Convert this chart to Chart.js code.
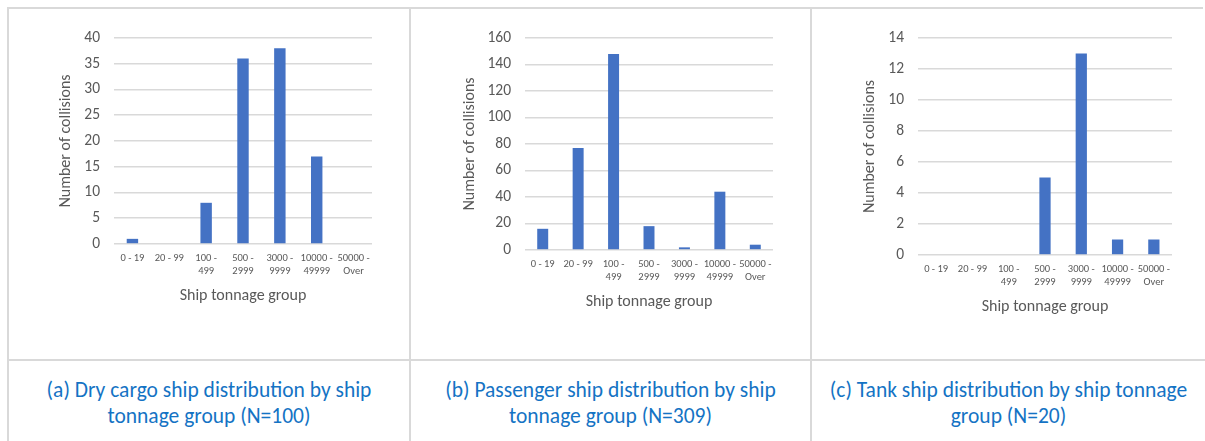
<!DOCTYPE html>
<html>
<head>
<meta charset="utf-8">
<script src="https://cdn.jsdelivr.net/npm/chart.js@4"></script>
<style>
  body { margin: 0; background: #fff; }
  #page { position: relative; width: 1205px; height: 441px; overflow: hidden; font-family: Carlito, Calibri, Lato, sans-serif; }
  .line { position: absolute; background: #d9d9d9; }
  .cell { position: absolute; }
  .caption { position: absolute; top: 377px; text-align: center; color: #1473c4; font-size: 21.5px; line-height: 26px; }
</style>
</head>
<body>
<div id="page">
  <div class="line" style="left:7px; top:7px; width:1196px; height:2px;"></div>
  <div class="line" style="left:7px; top:7px; width:2px; height:434px;"></div>
  <div class="line" style="left:409px; top:7px; width:2px; height:434px;"></div>
  <div class="line" style="left:810px; top:7px; width:2px; height:434px;"></div>
  <div class="line" style="left:7px; top:359px; width:1198px; height:2px;"></div>

  <div class="cell" style="left:9px; top:9px; width:400px; height:350px;"><canvas id="chartA"></canvas></div>
  <div class="cell" style="left:411px; top:9px; width:399px; height:350px;"><canvas id="chartB"></canvas></div>
  <div class="cell" style="left:812px; top:9px; width:393px; height:350px;"><canvas id="chartC"></canvas></div>

  <div class="caption" style="left:9px; width:400px;">(a) Dry cargo ship distribution by ship<br>tonnage group (N=100)</div>
  <div class="caption" style="left:411px; width:399px;">(b) Passenger ship distribution by ship<br>tonnage group (N=309)</div>
  <div class="caption" style="left:812px; width:393px;">(c) Tank ship distribution by ship tonnage<br>group (N=20)</div>
</div>
<script>
const tonnageGroups = [
  ['0 - 19'], ['20 - 99'], ['100 -', '499'], ['500 -', '2999'],
  ['3000 -', '9999'], ['10000 -', '49999'], ['50000 -', 'Over']
];
const dryCargo = [1, 0, 8, 36, 38, 17, 0];
const passenger = [16, 77, 148, 18, 2, 44, 4];
const tank = [0, 0, 0, 5, 13, 1, 1];

const FONT = 'Carlito, Calibri, Lato, sans-serif';
const GREY = '#595959';
const TITLE_SIZE = 16;
const HALF_LINE = TITLE_SIZE * 1.2 / 2;

// plot box inside each canvas: left/right/top/bottom + y title centre
function makeChart(id, values, yMax, yStep, box) {
  const w = document.getElementById(id).parentNode.clientWidth;
  const h = 350;
  const padLeft = box.titleX - HALF_LINE;
  const yWidth = box.left - padLeft;
  const xHeight = 52 + HALF_LINE;
  new Chart(document.getElementById(id), {
    type: 'bar',
    data: {
      labels: tonnageGroups,
      datasets: [{
        data: values,
        backgroundColor: '#4472c4',
        categoryPercentage: 1,
        barPercentage: 0.31,
      }]
    },
    options: {
      responsive: false,
      maintainAspectRatio: false,
      animation: false,
      devicePixelRatio: 1,
      layout: {
        padding: { left: padLeft, right: w - box.right, top: box.top, bottom: h - box.bottom - xHeight }
      },
      plugins: { legend: { display: false }, tooltip: { enabled: false } },
      scales: {
        x: {
          grid: { display: false },
          border: { display: false },
          ticks: { color: GREY, font: { family: FONT, size: 10.5, lineHeight: 1.25 }, padding: 0, maxRotation: 0, autoSkip: false },
          title: { display: true, text: 'Ship tonnage group', color: GREY, font: { family: FONT, size: TITLE_SIZE }, padding: 0 },
          afterFit: s => { s.height = xHeight; }
        },
        y: {
          min: 0, max: yMax,
          grid: { color: '#d9d9d9', lineWidth: 1.6, drawTicks: false },
          border: { display: false },
          ticks: { stepSize: yStep, color: GREY, font: { family: FONT, size: 15.5 }, padding: 14 },
          title: { display: true, text: 'Number of collisions', color: GREY, font: { family: FONT, size: TITLE_SIZE }, padding: 0 },
          afterFit: s => { s.width = yWidth; }
        }
      }
    }
  });
}

function sizeCanvas(id) {
  const c = document.getElementById(id);
  c.width = c.parentNode.clientWidth;
  c.height = 350;
}
['chartA', 'chartB', 'chartC'].forEach(sizeCanvas);

makeChart('chartA', dryCargo, 40, 5, { left: 105, right: 363, top: 29, bottom: 235, titleX: 57 });
makeChart('chartB', passenger, 160, 20, { left: 114, right: 362, top: 29, bottom: 241, titleX: 59 });
makeChart('chartC', tank, 14, 2, { left: 106, right: 360, top: 29, bottom: 246, titleX: 58 });
</script>
</body>
</html>
